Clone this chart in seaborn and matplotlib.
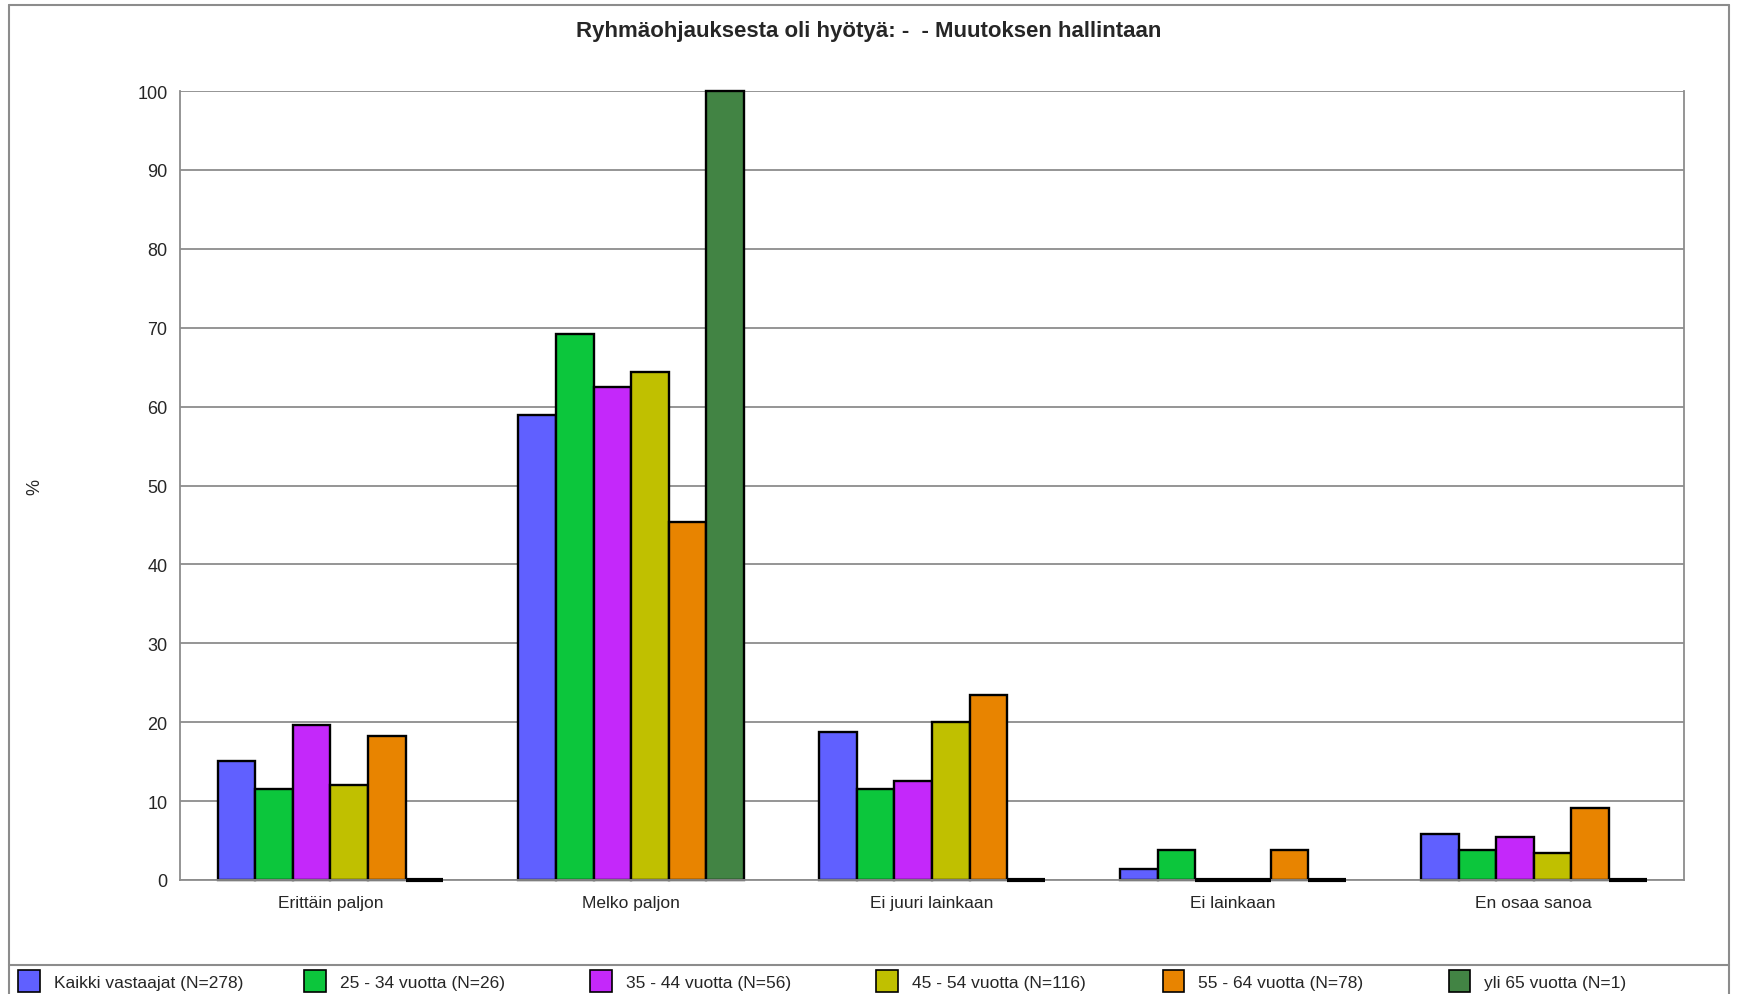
import pandas as pd
import matplotlib
matplotlib.use("Agg")
import matplotlib.pyplot as plt
import seaborn as sns
from matplotlib.lines import Line2D

categories = ["Erittäin paljon", "Melko paljon", "Ei juuri lainkaan", "Ei lainkaan", "En osaa sanoa"]
groups = [
    "Kaikki vastaajat (N=278)",
    "25 - 34 vuotta (N=26)",
    "35 - 44 vuotta (N=56)",
    "45 - 54 vuotta (N=116)",
    "55 - 64 vuotta (N=78)",
    "yli 65 vuotta (N=1)",
]
kaikki = [15.1, 59.0, 18.7, 1.4, 5.8]
v25_34 = [11.5, 69.2, 11.5, 3.8, 3.8]
v35_44 = [19.6, 62.5, 12.5, 0.0, 5.4]
v45_54 = [12.1, 64.4, 20.0, 0.0, 3.4]
v55_64 = [18.2, 45.4, 23.4, 3.8, 9.1]
yli65 = [0.0, 100.0, 0.0, 0.0, 0.0]
colors = ["#6060ff", "#0cc63c", "#c428fa", "#c0c000", "#e88400", "#428444"]

series = [kaikki, v25_34, v35_44, v45_54, v55_64, yli65]
rows = []
for g, vals in zip(groups, series):
    for c, v in zip(categories, vals):
        rows.append({"Luokka": c, "Ryhmä": g, "Arvo": v})
df = pd.DataFrame(rows)

sns.set_style("white")
plt.rcParams["font.family"] = ["Liberation Sans", "DejaVu Sans"]

fig = plt.figure(figsize=(17.38, 9.95), dpi=100)
ax = fig.add_axes([0.1036, 0.1146, 0.8654, 0.7929])

sns.barplot(data=df, x="Luokka", y="Arvo", hue="Ryhmä", order=categories,
            hue_order=groups, palette=colors, width=0.75, gap=0,
            edgecolor="black", linewidth=1.7, errorbar=None, saturation=1,
            ax=ax, legend=False)
# zero-height bars show as black lines on the baseline
for p in list(ax.patches):
    p.set_clip_on(False)
    if p.get_height() == 0:
        ax.plot([p.get_x(), p.get_x() + p.get_width()], [0, 0], color="black",
                lw=3, solid_capstyle="butt", clip_on=False, zorder=5)

ax.set_ylim(0, 100)
ax.set_yticks(range(0, 101, 10))
ax.set_xlim(-0.5, len(categories) - 0.5)
ax.grid(True, axis="y", color="#8c8c8c", linewidth=1.3)
ax.set_axisbelow(True)
for s in ax.spines.values():
    s.set_color("#8c8c8c")
    s.set_linewidth(1.3)
ax.spines["top"].set_visible(False)
ax.tick_params(axis="y", length=5, color="#8c8c8c", labelsize=13, pad=4)
ax.tick_params(axis="x", length=0, labelsize=12.5, pad=11)
ax.set_xlabel("")
ax.set_ylabel("%", fontsize=13)
ax.yaxis.set_label_coords(-0.091, 0.5)

fig.text(0.5, 0.968, "Ryhmäohjauksesta oli hyötyä: -  - Muutoksen hallintaan",
         ha="center", va="center", fontsize=16, fontweight="bold")

# outer frame and legend separator
fig.add_artist(Line2D([0.005, 0.005], [0.0, 0.994], color="#8c8c8c", lw=1.5, transform=fig.transFigure))
fig.add_artist(Line2D([0.995, 0.995], [0.0, 0.994], color="#8c8c8c", lw=1.5, transform=fig.transFigure))
fig.add_artist(Line2D([0.005, 0.995], [0.994, 0.994], color="#8c8c8c", lw=1.5, transform=fig.transFigure))
fig.add_artist(Line2D([0.005, 0.995], [0.029, 0.029], color="#8c8c8c", lw=1.5, transform=fig.transFigure))

# legend entries evenly spaced along the bottom
for i, (g, c) in enumerate(zip(groups, colors)):
    h = plt.Rectangle((0, 0), 1, 1, facecolor=c, edgecolor="black", linewidth=1.2)
    fig.legend([h], [g], loc="center left", bbox_to_anchor=(0.0105 + i * 0.1646, 0.013),
               frameon=False, fontsize=12.5, handlelength=1.25, handleheight=1.5,
               handletextpad=0.8, borderaxespad=0, borderpad=0)

fig.savefig("out.png", dpi=100)
